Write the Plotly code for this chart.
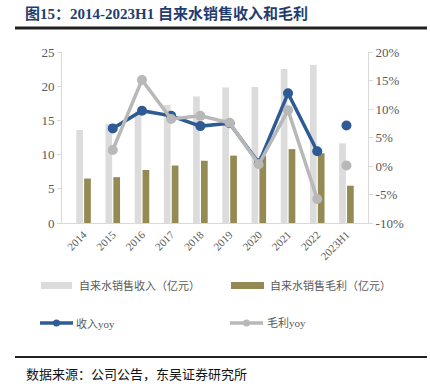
import plotly.graph_objects as go

years = ["2014", "2015", "2016", "2017", "2018", "2019", "2020", "2021", "2022", "2023H1"]
revenue = [13.6, 14.5, 16.3, 17.25, 18.5, 19.8, 19.9, 22.5, 23.1, 11.65]
gross = [6.5, 6.7, 7.75, 8.4, 9.1, 9.85, 9.8, 10.8, 10.2, 5.45]
rev_yoy = [None, 6.6, 9.7, 8.8, 7.0, 7.5, 0.5, 12.75, 2.6, 7.1]
gross_yoy = [None, 2.8, 15.1, 8.25, 8.8, 7.6, 0.3, 9.8, -5.8, 0.1]

left_ticks = [0, 5, 10, 15, 20, 25]
right_ticks = [-10, -5, 0, 5, 10, 15, 20]
right_labels = [f"{v}%" for v in right_ticks]

C_REV = "#dcdcdc"
C_GROSS = "#948a54"
C_BLUE = "#2f5b95"
C_GRAY = "#b8b8b8"
CJK = "Liberation Serif, Noto Sans CJK SC"
SERIF = "Liberation Serif"

fig = go.Figure()
fig.add_trace(go.Bar(x=years, y=revenue, name="自来水销售收入（亿元）", marker_color=C_REV,
                     marker_line_width=0, yaxis="y", offsetgroup="a"))
fig.add_trace(go.Bar(x=years, y=gross, name="自来水销售毛利（亿元）", marker_color=C_GROSS,
                     marker_line_width=0, yaxis="y", offsetgroup="b"))
fig.add_trace(go.Scatter(x=years[:-1], y=rev_yoy[:-1], name="收入yoy", mode="lines+markers",
                         line=dict(color=C_BLUE, width=3.5), marker=dict(size=10, color=C_BLUE),
                         yaxis="y2"))
fig.add_trace(go.Scatter(x=years[-1:], y=rev_yoy[-1:], mode="markers", showlegend=False,
                         marker=dict(size=10, color=C_BLUE), yaxis="y2"))
fig.add_trace(go.Scatter(x=years[:-1], y=gross_yoy[:-1], name="毛利yoy", mode="lines+markers",
                         line=dict(color=C_GRAY, width=3.5), marker=dict(size=10, color=C_GRAY),
                         yaxis="y2"))
fig.add_trace(go.Scatter(x=years[-1:], y=gross_yoy[-1:], mode="markers", showlegend=False,
                         marker=dict(size=10, color=C_GRAY), yaxis="y2"))

fig.update_layout(
    width=430, height=391,
    margin=dict(l=62, r=62, t=52, b=168),
    paper_bgcolor="white", plot_bgcolor="white",
    showlegend=False,
    barmode="group", bargap=0.46, bargroupgap=0.15,
    xaxis=dict(type="category", tickangle=-45, showgrid=False, showline=True,
               linecolor="#d9d9d9", linewidth=1, ticks="",
               tickfont=dict(family=SERIF, size=11, color="#595959")),
    yaxis=dict(range=[0, 25], tickvals=left_ticks, showgrid=False, showline=True,
               linecolor="#d9d9d9", linewidth=1, ticks="outside", ticklen=4,
               tickcolor="#d9d9d9", zeroline=False,
               tickfont=dict(family=SERIF, size=13, color="#595959")),
    yaxis2=dict(range=[-10, 20], tickvals=right_ticks, ticktext=right_labels,
                overlaying="y", side="right", showgrid=False, showline=True,
                linecolor="#d9d9d9", linewidth=1, ticks="outside", ticklen=4,
                tickcolor="#d9d9d9", zeroline=False,
                tickfont=dict(family=SERIF, size=13, color="#595959")),
)

def px(x):
    return (x - 62) / 306
def py(y):
    return (223 - y) / 171

shapes = []
annotations = []
annotations.append(dict(xref="paper", yref="paper", x=px(24), y=py(14),
                        xanchor="left", yanchor="middle", showarrow=False, borderpad=0,
                        text="<b>图15：2014-2023H1 自来水销售收入和毛利</b>",
                        font=dict(family=CJK, size=15, color="#1f3d70")))

shapes.append(dict(type="line", xref="paper", yref="paper", x0=px(15), x1=px(427),
                   y0=py(28), y1=py(28), line=dict(color="#222", width=3)))
shapes.append(dict(type="line", xref="paper", yref="paper", x0=px(15), x1=px(427),
                   y0=py(357), y1=py(357), line=dict(color="#222", width=2)))
# legend
shapes.append(dict(type="rect", xref="paper", yref="paper", x0=px(41), x1=px(72),
                   y0=py(289), y1=py(282), fillcolor=C_REV, line_width=0))
shapes.append(dict(type="rect", xref="paper", yref="paper", x0=px(231), x1=px(264),
                   y0=py(289), y1=py(282), fillcolor=C_GROSS, line_width=0))
shapes.append(dict(type="line", xref="paper", yref="paper", x0=px(40), x1=px(73),
                   y0=py(323), y1=py(323), line=dict(color=C_BLUE, width=3.5)))
shapes.append(dict(type="circle", xref="paper", yref="paper", x0=px(53), x1=px(60),
                   y0=py(326.5), y1=py(319.5), fillcolor=C_BLUE, line_width=0))
shapes.append(dict(type="line", xref="paper", yref="paper", x0=px(230), x1=px(263),
                   y0=py(323), y1=py(323), line=dict(color=C_GRAY, width=3.5)))
shapes.append(dict(type="circle", xref="paper", yref="paper", x0=px(243), x1=px(250),
                   y0=py(326.5), y1=py(319.5), fillcolor=C_GRAY, line_width=0))

for x, y, t in [(77, 285.5, "自来水销售收入（亿元）"), (268, 285.5, "自来水销售毛利（亿元）"),
                (74, 323, "收入yoy"), (265, 323, "毛利yoy")]:
    annotations.append(dict(xref="paper", yref="paper", x=px(x), y=py(y), xanchor="left",
                            yanchor="middle", showarrow=False, text=t,
                            font=dict(family=CJK, size=11, color="#595959")))
annotations.append(dict(xref="paper", yref="paper", x=px(24), y=py(374), xanchor="left",
                        yanchor="middle", showarrow=False, text="数据来源：公司公告，东吴证券研究所",
                        font=dict(family=CJK, size=13, color="#111")))

fig.update_layout(shapes=shapes, annotations=annotations)
fig.write_html("out.html", config={"displayModeBar": False},
               post_script="document.body.style.margin='0';")
